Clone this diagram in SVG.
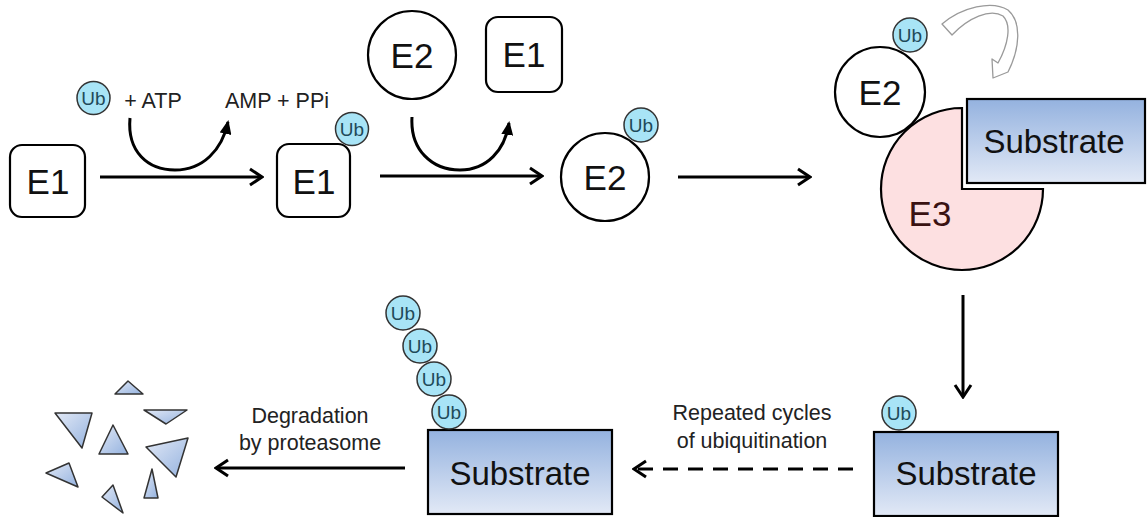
<svg xmlns="http://www.w3.org/2000/svg" width="1147" height="517" viewBox="0 0 1147 517">
<style>
.enz{fill:#fff;stroke:#000;stroke-width:2.2}
.big{font-family:"Liberation Sans",Arial,sans-serif;font-size:35px;fill:#111;text-anchor:middle}
.sub{font-family:"Liberation Sans",Arial,sans-serif;font-size:33px;fill:#111;text-anchor:middle}
.lbl{font-family:"Liberation Sans",Arial,sans-serif;font-size:21.5px;fill:#222;text-anchor:middle}
.ubc{fill:#a8e4f6;stroke:#333;stroke-width:1.5}
.ubt{font-family:"Liberation Sans",Arial,sans-serif;font-size:19px;fill:#1f4a5a;text-anchor:middle}
.subr{fill:url(#gsub);stroke:#000;stroke-width:2.2}
.tri{fill:url(#gtri);stroke:#333;stroke-width:1.5;stroke-linejoin:round}
.arr{fill:none;stroke:#000;stroke-width:3}
</style>
<defs>
<linearGradient id="gsub" x1="0" y1="0" x2="0" y2="1">
<stop offset="0" stop-color="#94b2df"/>
<stop offset="1" stop-color="#e2e9f6"/>
</linearGradient>
<linearGradient id="gtri" x1="0" y1="0" x2="1" y2="1">
<stop offset="0" stop-color="#e2e9f6"/>
<stop offset="1" stop-color="#94b2df"/>
</linearGradient>
<marker id="open" viewBox="0 0 16 20" refX="14" refY="10" markerWidth="16" markerHeight="20" markerUnits="userSpaceOnUse" orient="auto">
<path d="M2,2 L14,10 L2,18" fill="none" stroke="#000" stroke-width="3"/>
</marker>
<marker id="solid" viewBox="0 0 14 12" refX="12" refY="6" markerWidth="14" markerHeight="12" markerUnits="userSpaceOnUse" orient="auto">
<path d="M0,0 L14,6 L0,12 Z" fill="#000"/>
</marker>
</defs>

<g id="connectors">
<line class="arr" x1="100" y1="177" x2="262" y2="177" marker-end="url(#open)"/>
<line class="arr" x1="380" y1="176" x2="542" y2="176" marker-end="url(#open)"/>
<line class="arr" x1="678" y1="177" x2="810" y2="177" marker-end="url(#open)"/>
<line class="arr" x1="963" y1="295" x2="963" y2="397" marker-end="url(#open)"/>
<line class="arr" x1="853" y1="469" x2="634" y2="469" stroke-dasharray="15 10" marker-end="url(#open)"/>
<line class="arr" x1="405" y1="468" x2="216" y2="468" marker-end="url(#open)"/>
<path class="arr" d="M130,118 C127,152 148,170 175,170 C203,170 222,150 228,122" marker-end="url(#solid)"/>
<path class="arr" d="M412,117 C410,150 432,170 460,170 C487,170 505,150 509,123" marker-end="url(#solid)"/>
<path d="M942,24 C962,7 992,0 1008,10 C1022,22 1020,48 1008,72 L993,78 L992,59 L998,63 C1008,45 1012,25 1003,16 C990,8 968,18 952,35 Z" fill="#fff" stroke="#9a9a9a" stroke-width="1.3" stroke-linejoin="round"/>
</g>

<g id="ub-1"><circle class="ubc" cx="93.5" cy="98" r="16.5"/><text class="ubt" x="93.5" y="104.5">Ub</text></g>
<text class="lbl" x="153" y="108">+ ATP</text>
<text class="lbl" x="277" y="108">AMP + PPi</text>

<g id="e1-free"><rect class="enz" x="10" y="145" width="75" height="72" rx="12"/><text class="big" x="48" y="194">E1</text></g>

<g id="e1-ub"><rect class="enz" x="277" y="144" width="73" height="73" rx="12"/><text class="big" x="314" y="194">E1</text>
<circle class="ubc" cx="352" cy="129" r="16.5"/><text class="ubt" x="352" y="135.5">Ub</text></g>

<g id="e2-free"><circle class="enz" cx="412" cy="55" r="44"/><text class="big" x="412" y="68">E2</text></g>
<g id="e1-released"><rect class="enz" x="486" y="17" width="76" height="75" rx="12"/><text class="big" x="524" y="67">E1</text></g>

<g id="e2-ub"><circle class="enz" cx="605" cy="177" r="44"/><text class="big" x="605" y="190">E2</text>
<circle class="ubc" cx="641" cy="125" r="17"/><text class="ubt" x="641" y="131.5">Ub</text></g>

<g id="e3-complex">
<path d="M962,189 L1043,189 A81,81 0 1 1 962,108 Z" fill="#fde0e1" stroke="#000" stroke-width="2.2" stroke-linejoin="miter"/>
<text class="big" x="930" y="226" style="fill:#3a1212">E3</text>
<rect class="subr" x="967" y="99" width="178" height="84"/>
<text class="sub" x="1054" y="153">Substrate</text>
<circle class="enz" cx="880" cy="92" r="45"/><text class="big" x="880" y="105">E2</text>
<circle class="ubc" cx="910" cy="35" r="17"/><text class="ubt" x="910" y="41.5">Ub</text>
</g>

<g id="substrate-ub">
<rect class="subr" x="874" y="432" width="184" height="84"/>
<text class="sub" x="966" y="485">Substrate</text>
<circle class="ubc" cx="899" cy="413" r="17"/><text class="ubt" x="899" y="419.5">Ub</text>
</g>
<text class="lbl" x="752" y="420">Repeated cycles</text>
<text class="lbl" x="752" y="448">of ubiquitination</text>

<g id="substrate-polyub">
<rect class="subr" x="428" y="430" width="184" height="84"/>
<text class="sub" x="520" y="485">Substrate</text>
<circle class="ubc" cx="403" cy="313" r="17"/><text class="ubt" x="403" y="319.5">Ub</text>
<circle class="ubc" cx="420" cy="346" r="17"/><text class="ubt" x="420" y="352.5">Ub</text>
<circle class="ubc" cx="434" cy="379" r="17"/><text class="ubt" x="434" y="385.5">Ub</text>
<circle class="ubc" cx="449" cy="412" r="17"/><text class="ubt" x="449" y="418.5">Ub</text>
</g>
<text class="lbl" x="310" y="423">Degradation</text>
<text class="lbl" x="310" y="450">by proteasome</text>

<g id="fragments">
<polygon class="tri" points="115,394 143,394 128,381"/>
<polygon class="tri" points="55,413 92,413 82,448"/>
<polygon class="tri" points="99,454 128,454 113,425"/>
<polygon class="tri" points="144,410 187,410 166,424"/>
<polygon class="tri" points="146,447 188,438 176,477"/>
<polygon class="tri" points="46,473 69,463 78,487"/>
<polygon class="tri" points="144,498 158,498 152,469"/>
<polygon class="tri" points="102,497 113,485 123,513"/>
</g>
</svg>
